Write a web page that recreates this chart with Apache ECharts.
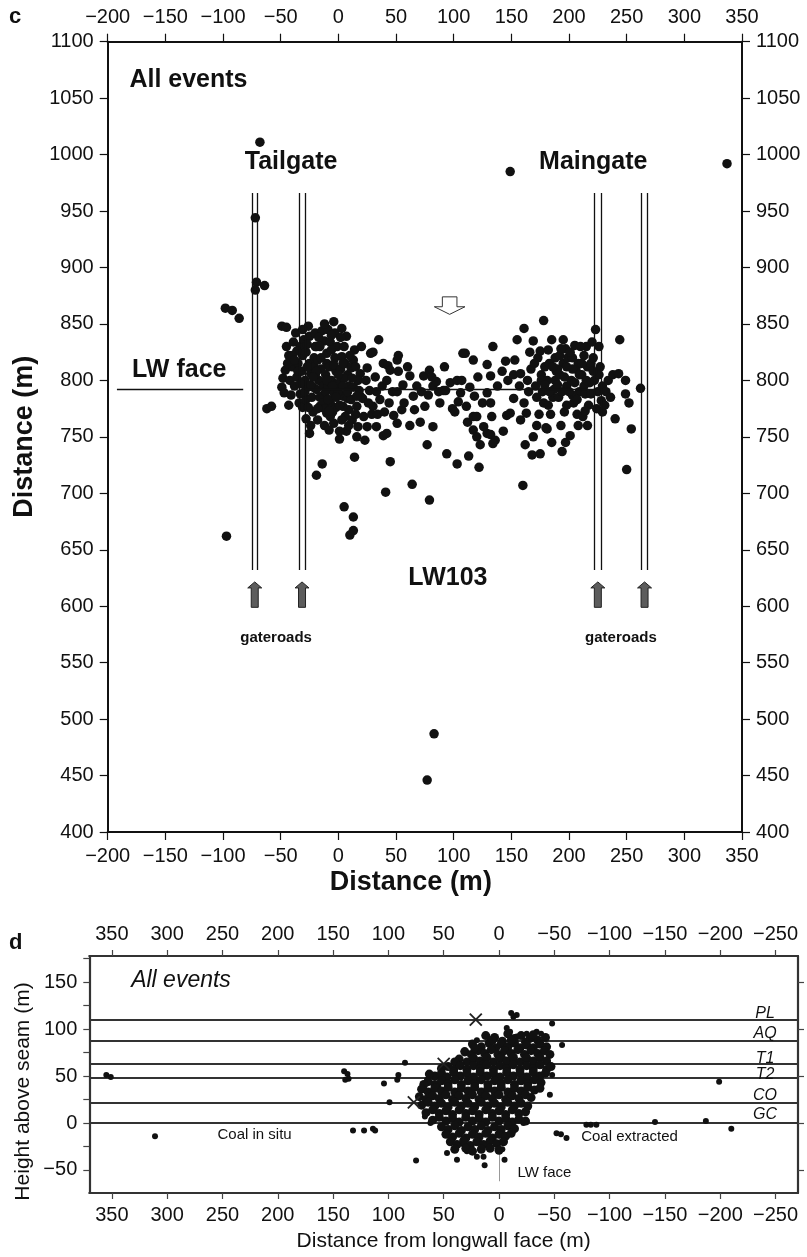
<!DOCTYPE html>
<html>
<head>
<meta charset="utf-8">
<script src="https://cdn.jsdelivr.net/npm/echarts@6/dist/echarts.min.js"></script>
<style>
html,body{margin:0;padding:0;background:#fff;}
#main{width:807px;height:1257px;}
</style>
</head>
<body>
<div id="main"></div>
<script>
// ---------- panel c : plan view, LW103 ----------
const ticksCX = [-200,-150,-100,-50,0,50,100,150,200,250,300,350];
const ticksCY = [400,450,500,550,600,650,700,750,800,850,900,950,1000,1050,1100];

const eventsC = [
  // outliers
  [-98,864],[-92,862],[-86,855],[-97,662],[-72,944],[-71,887],[-64,884],[-72,880],[-68,1011],[-62,775],[-58,777],
  [149,985],[337,992],[83,487],[77,446],[5,688],[13,679],[13,667],[10,663],[79,694],
  // left lobe
  [-49,848],[-45,847],[-48,802],[-49,794],[-46,809],[-43,822],[-43,778],[-40,812],[-41,787],[-44,815],[-47,789],[-42,800],
  [-37,842],[-33,830],[-30,836],[-36,803],[-33,788],[-35,815],[-38,795],[-32,808],[-31,822],[-34,780],[-30,798],[-36,826],[-39,834],[-31,776],
  [-26,848],[-25,839],[-27,794],[-28,783],[-22,794],[-22,772],[-28,766],[-25,753],[-25,815],[-20,830],[-24,806],[-28,825],[-21,812],[-29,800],[-23,785],[-26,776],[-20,842],[-24,760],[-27,832],[-21,820],
  [-14,844],[-19,830],[-17,800],[-14,786],[-16,777],[-10,771],[-10,824],[-14,726],[-19,716],[-12,835],[-18,818],[-15,810],[-11,805],[-19,792],[-13,795],[-18,765],[-12,760],[-16,785],[-10,815],[-20,805],[-13,780],[-17,838],[-11,790],
  [-7,834],[-7,780],[-4,789],[-4,762],[-8,812],[-3,820],[-6,800],[-2,808],[-9,795],[-1,830],[-5,772],[-8,756],[-2,776],[-6,827],[-3,842],[-9,845],[-1,797],[-7,768],[-4,814],[-9,783],
  [3,846],[7,839],[3,821],[1,797],[4,786],[9,774],[1,748],[7,755],[1,755],[6,768],[2,810],[8,805],[5,830],[0,790],[6,815],[9,795],[4,777],[8,784],[3,765],[9,760],[5,802],[1,778],
  [14,827],[13,818],[13,794],[19,786],[16,777],[12,765],[17,759],[14,732],[20,830],[19,806],[11,811],[17,800],[15,770],[18,791],[11,783],[12,802],[16,750],
  [25,811],[22,768],[25,759],[23,747],[27,791],[30,777],[28,824],[24,800],[21,784],[29,770],[26,780],
  [32,803],[36,783],[33,759],[39,751],[39,815],[35,836],[30,825],[38,795],[34,770],[40,772],[33,790],
  [-45,830],[-40,822],[-35,808],[-29,790],[-24,796],[-19,808],[-15,820],[-10,800],[-5,795],[0,805],[4,795],[8,790],[-2,785],[-12,775],[-22,803],
  [-33,797],[-38,818],[-27,812],[-16,830],[-6,840],[2,838],[10,822],[15,812],[-8,773],[-18,775],[4,815],[-31,845],[-12,850],[-4,852],[16,786],
  // middle
  [42,800],[43,813],[45,809],[42,753],[45,728],[41,701],[48,769],[47,790],[44,780],
  [51,790],[55,774],[52,808],[51,818],[52,822],[51,762],[57,780],[56,796],
  [62,804],[65,786],[66,774],[64,708],[62,760],[68,795],[60,812],
  [74,804],[75,777],[71,763],[79,809],[77,743],[78,787],[72,790],
  [82,795],[85,799],[88,780],[82,759],[81,803],[87,790],
  [91,791],[93,791],[94,735],[92,812],[97,798],[99,775],
  [103,800],[107,800],[106,789],[101,772],[103,726],[108,824],[104,781],
  [110,824],[117,818],[112,763],[113,733],[111,777],[117,768],[117,756],[120,750],[120,768],[118,786],[114,794],
  [121,803],[122,723],[129,814],[126,759],[129,753],[129,789],[125,780],[123,743],
  [134,830],[132,804],[132,780],[132,752],[136,747],[134,744],[133,768],[138,795],
  [145,817],[142,808],[143,755],[146,769],[149,771],[147,800],
  [155,836],[152,784],[152,805],[158,806],[158,765],[160,707],[153,818],[157,795],
  // right lobe
  [161,846],[162,743],[166,825],[169,835],[163,771],[169,750],[168,734],[165,790],[167,810],[161,780],[164,800],
  [175,735],[178,853],[173,820],[176,805],[171,795],[178,780],[174,770],[179,812],[172,760],[177,790],[180,758],[175,826],
  [182,827],[185,836],[181,757],[183,815],[188,800],[186,785],[184,770],[189,808],[187,792],[182,778],[185,745],[181,800],[188,820],
  [195,836],[197,828],[194,737],[197,745],[195,815],[192,805],[198,795],[191,785],[196,772],[199,820],[193,760],[190,810],[198,778],[194,790],[192,822],
  [205,831],[201,751],[208,760],[203,820],[206,810],[202,800],[209,790],[204,780],[207,770],[201,825],[205,798],[208,815],[203,787],
  [213,822],[216,812],[211,805],[218,798],[214,788],[217,778],[212,768],[219,815],[215,830],[220,834],[213,795],[216,760],[211,815],
  [223,845],[227,812],[229,772],[222,800],[225,790],[228,782],[221,820],[226,805],[224,775],[229,795],
  [170,815],[176,800],[183,790],[190,796],[196,803],[203,810],[209,805],[215,800],[221,808],[186,812],
  [193,828],[200,790],[207,783],[214,773],[219,788],[179,796],[172,785],[226,830],[210,830],[198,812],
  [234,800],[238,805],[240,766],[232,790],[236,785],[231,778],[243,806],[244,836],[249,800],[249,788],[252,780],[254,757],[250,721],[262,793]
];

// gateroad pillars (x of each line) and their extent
const gateroadX = [-75,-70,-34,-29,222,228,263,268];
const gateroadTop = 966;
const gateroadBottom = 632;
// arrows: [x, bottom, top]
const gateArrows = [[-72.5,599,621.5],[-31.5,599,621.5],[225,599,621.5],[265.5,599,621.5]];
const faceArrow = [[96.5,858.5,874]];   // [x, tip, top]
// longwall face lines: [x1, x2, y]
const faceLines = [[-192,-82.5,792],[-29,222,792]];

const labelsC = [
  ['All events', -130, 1066, 25],
  ['Tailgate', -41, 993, 25],
  ['Maingate', 221, 993, 25],
  ['LW face', -138, 809, 25],
  ['LW103', 95, 625, 25],
  ['gateroads', -54, 572, 15],
  ['gateroads', 245, 572, 15]
];

// ---------- panel d : section view ----------
const ticksDX = [-250,-200,-150,-100,-50,0,50,100,150,200,250,300,350];
const ticksDY = [-50,0,50,100,150];
const minorDY = [-50,-25,0,25,50,75,100,125,150,175];

const seamNames = ['PL','AQ','T1','T2','CO','GC'];
const seamHeights = [110, 87, 63, 48, 22, 0];
const seamLabelY = [116, 95.5, 69, 52, 29, 8.5];
const crossMarks = [[21,110],[50,63],[77,22]];

// isolated events around the face
const eventsDScatter = [
  [355,51],[351,49],[311,-14],[140,55],[137,52],[136,47],[139,46],[132,-8],[122,-8],[114,-6],[112,-8],[104,42],[99,22],[92,46],[91,51],[85,64],[75,-40],[67,7],[62,0],[65,46],[55,39],
  [-48,106],[-57,83],[-48,51],[-46,30],[-52,-11],[-56,-12],[-61,-16],[-79,-2],[-83,-2],[-88,-2],[-141,1],[-187,2],[-210,-6],[-199,44],
  [47,-32],[38,-39],[29,-30],[14,-36],[13,-45],[-5,-39],[32,-23],[-5,-20],[-22,0],[20,-36],[-3,-28],
  [-11,117],[-16,115],[-13,113],[-7,101],[-10,97],[-25,95],[-34,97],[-38,95],[-16,92],[20,88],[31,74]
];
// dense cloud of events at the face
const eventsDCore = [
  [-8,95],[-14,90],[-20,93],[-28,90],[-35,88],[-42,91],[-3,87],[4,91],[12,93],[-24,86],[-31,94],
  [24,84],[16,81],[9,85],[3,80],[-2,84],[-8,81],[-14,85],[-19,80],[-25,83],[-31,80],[-37,84],[-43,81],[-11,88],[6,88],
  [31,76],[25,73],[19,77],[13,74],[7,78],[1,73],[-5,77],[-11,74],[-17,78],[-23,73],[-29,77],[-35,74],[-41,77],[-46,73],[22,80],[-2,70],
  [36,68],[29,65],[23,69],[17,66],[11,70],[5,65],[-1,69],[-7,66],[-13,70],[-19,65],[-25,69],[-31,66],[-37,70],[-43,66],[40,65],[14,62],
  [46,60],[41,57],[35,61],[29,57],[23,61],[17,58],[11,62],[5,57],[-1,61],[-7,58],[-13,62],[-19,57],[-25,61],[-31,58],[-37,62],[-43,57],[-47,60],[52,58],
  [58,50],[52,53],[47,49],[41,54],[35,50],[29,53],[23,49],[17,54],[11,50],[5,53],[-1,49],[-7,54],[-13,50],[-19,53],[-25,49],[-31,54],[-37,50],[-42,53],[63,52],
  [64,44],[58,41],[52,45],[46,42],[40,46],[34,41],[28,45],[22,42],[16,46],[10,41],[4,45],[-2,42],[-8,46],[-14,41],[-20,45],[-26,42],[-32,46],[-38,43],[68,41],
  [70,36],[64,33],[58,37],[52,34],[46,38],[40,33],[34,37],[28,34],[22,38],[16,33],[10,37],[4,34],[-2,38],[-8,33],[-14,37],[-20,34],[-26,38],[-32,35],[-37,37],
  [72,28],[66,25],[60,29],[54,26],[48,30],[42,25],[36,29],[30,26],[24,30],[18,25],[12,29],[6,26],[0,30],[-6,25],[-12,29],[-18,26],[-24,30],[-29,27],
  [70,19],[64,22],[58,18],[52,21],[46,17],[40,22],[34,18],[28,21],[22,17],[16,22],[10,18],[4,21],[-2,17],[-8,22],[-14,18],[-20,21],[-26,18],
  [66,11],[60,14],[54,10],[48,13],[42,9],[36,14],[30,10],[24,13],[18,9],[12,14],[6,10],[0,13],[-6,9],[-12,14],[-18,10],[-24,12],
  [60,3],[54,6],[48,2],[42,5],[36,1],[30,6],[24,2],[18,5],[12,1],[6,6],[0,2],[-6,5],[-12,1],[-18,4],[-24,2],
  [52,-4],[46,-7],[40,-3],[34,-8],[28,-4],[22,-7],[16,-3],[10,-8],[4,-4],[-2,-7],[-8,-3],[-14,-6],
  [48,-12],[42,-15],[36,-11],[30,-16],[24,-12],[18,-15],[12,-11],[6,-16],[0,-12],[-6,-14],[-11,-11],
  [44,-20],[38,-23],[32,-19],[26,-24],[20,-20],[14,-23],[8,-19],[2,-22],[-4,-20],
  [40,-28],[30,-27],[24,-30],[16,-28],[8,-27],[0,-29]
];

const labelsD = [
  ['Coal in situ', 221, -13],
  ['Coal extracted', -118, -15],
  ['LW face', -41, -53.5]
];

const FONT = '"Liberation Sans", Arial, Helvetica, sans-serif';
const fmt = v => String(v).replace('-', '\u2212');

const chart = echarts.init(document.getElementById('main'));

function axisC(pos, extra) {
  return Object.assign({
    gridIndex: 0, type: 'value', position: pos,
    min: pos === 'left' || pos === 'right' ? 400 : -200,
    max: pos === 'left' || pos === 'right' ? 1100 : 350,
    interval: 50,
    axisLine: { onZero: false, lineStyle: { color: '#111', width: 2 } },
    axisTick: { length: 8, lineStyle: { color: '#111', width: 1.2 } },
    axisLabel: { margin: 14, fontSize: 20, color: '#111', fontFamily: FONT, formatter: fmt },
    splitLine: { show: false },
    nameMoveOverlap: false
  }, extra || {});
}
function axisD(pos, ticks, labels, extra) {
  const isY = pos === 'left' || pos === 'right';
  return Object.assign({
    gridIndex: 1, type: 'value', position: pos,
    min: isY ? -74.5 : -270.3,
    max: isY ? 177.7 : 370.4,
    inverse: !isY,
    axisLine: { onZero: false, lineStyle: { color: '#333', width: 2.2 } },
    axisTick: { length: 6, customValues: ticks, lineStyle: { color: '#444', width: 1.2 } },
    axisLabel: { show: !!labels, customValues: labels || ticks, margin: 12, fontSize: 20, color: '#111', fontFamily: FONT, formatter: fmt },
    splitLine: { show: false },
    nameMoveOverlap: false
  }, extra || {});
}

function textLabel(name, x, y, size, weight, style) {
  return { name: name, value: [x, y],
    label: { show: true, position: 'inside', formatter: '{b}', fontSize: size, fontWeight: weight,
      fontStyle: style, color: '#111', opacity: 1, fontFamily: FONT } };
}

const option = {
  animation: false,
  backgroundColor: '#fff',
  grid: [
    { left: 107.7, top: 41.7, width: 634.3, height: 790.3, outerBoundsMode: 'none' },
    { left: 89.3, top: 956, width: 708.7, height: 237, outerBoundsMode: 'none' }
  ],
  graphic: [
    { type: 'text', left: 9, top: 6, style: { text: 'c', font: 'bold 22px ' + FONT, fill: '#111' } },
    { type: 'text', left: 9, top: 932, style: { text: 'd', font: 'bold 22px ' + FONT, fill: '#111' } }
  ],
  xAxis: [
    axisC('bottom', { name: 'Distance (m)', nameLocation: 'middle', nameGap: 37,
      nameTextStyle: { fontSize: 27, fontWeight: 'bold', color: '#111', fontFamily: FONT, padding: [0, 28, 0, 0] } }),
    axisC('top'),
    axisD('bottom', ticksDX, ticksDX, { name: 'Distance from longwall face (m)', nameLocation: 'middle', nameGap: 38,
      nameTextStyle: { fontSize: 21, color: '#111', fontFamily: FONT } }),
    axisD('top', ticksDX, ticksDX)
  ],
  yAxis: [
    axisC('left', { name: 'Distance (m)', nameLocation: 'middle', nameGap: 70,
      nameTextStyle: { fontSize: 27, fontWeight: 'bold', color: '#111', fontFamily: FONT } }),
    axisC('right'),
    axisD('left', minorDY, ticksDY, { name: 'Height above seam (m)', nameLocation: 'middle', nameGap: 56,
      nameTextStyle: { fontSize: 21, color: '#111', fontFamily: FONT, padding: [0, 34, 0, 0] } }),
    axisD('right', ticksDY, null)
  ],
  series: [
    {
      type: 'scatter', xAxisIndex: 0, yAxisIndex: 0, silent: true,
      data: eventsC, symbolSize: 9.5, itemStyle: { color: '#111', opacity: 1 }, z: 3,
      markLine: {
        silent: true, symbol: ['none', 'none'], label: { show: false },
        lineStyle: { color: '#111', width: 1.3, type: 'solid', opacity: 1 },
        data: gateroadX.map(x => [{ coord: [x, gateroadTop] }, { coord: [x, gateroadBottom] }])
          .concat(faceLines.map(l => [{ coord: [l[0], l[2]] }, { coord: [l[1], l[2]] }]))
      }
    },
    {
      type: 'custom', xAxisIndex: 0, yAxisIndex: 0, silent: true, z: 4,
      data: gateArrows, encode: { x: 0, y: [1, 2] },
      renderItem: (params, api) => {
        const b = api.coord([api.value(0), api.value(1)]);
        const t = api.coord([api.value(0), api.value(2)]);
        const sw = 3.5, hw = 7, hh = 6;
        return { type: 'polygon', shape: { points: [
          [b[0] - sw, b[1]], [b[0] - sw, t[1] + hh], [b[0] - hw, t[1] + hh], [b[0], t[1]],
          [b[0] + hw, t[1] + hh], [b[0] + sw, t[1] + hh], [b[0] + sw, b[1]] ] },
          style: { fill: '#5c5c5c', stroke: '#222', lineWidth: 1, opacity: 1 } };
      }
    },
    {
      type: 'custom', xAxisIndex: 0, yAxisIndex: 0, silent: true, z: 4,
      data: faceArrow, encode: { x: 0, y: [1, 2] },
      renderItem: (params, api) => {
        const p = api.coord([api.value(0), api.value(1)]);
        const t = api.coord([api.value(0), api.value(2)]);
        const sw = 7.3, hw = 15.3, hh = 7.6;
        return { type: 'polygon', shape: { points: [
          [p[0] - sw, t[1]], [p[0] + sw, t[1]], [p[0] + sw, p[1] - hh], [p[0] + hw, p[1] - hh],
          [p[0], p[1]], [p[0] - hw, p[1] - hh], [p[0] - sw, p[1] - hh] ] },
          style: { fill: '#fff', stroke: '#333', lineWidth: 1, opacity: 1 } };
      }
    },
    {
      type: 'scatter', xAxisIndex: 0, yAxisIndex: 0, silent: true, z: 5,
      symbolSize: 1, itemStyle: { color: 'rgba(0,0,0,0)', opacity: 1 },
      data: labelsC.map(l => textLabel(l[0], l[1], l[2], l[3], 'bold', 'normal'))
    },
    // panel d
    {
      type: 'scatter', xAxisIndex: 2, yAxisIndex: 2, silent: true,
      data: eventsDScatter, symbolSize: 6, itemStyle: { color: '#111', opacity: 1 }, z: 6,
      markLine: {
        silent: true, symbol: ['none', 'none'], label: { show: false }, z: 2,
        lineStyle: { color: '#333', width: 2, type: 'solid', opacity: 1 },
        data: seamHeights.map(h => ({ yAxis: h }))
          .concat([[{ coord: [0, 0], lineStyle: { color: '#999', width: 1 } }, { coord: [0, -62] }]])
      }
    },
    {
      type: 'scatter', xAxisIndex: 2, yAxisIndex: 2, silent: true,
      data: eventsDCore, symbolSize: 9, itemStyle: { color: '#111', opacity: 1 }, z: 6
    },
    {
      type: 'custom', xAxisIndex: 2, yAxisIndex: 2, silent: true, z: 8,
      data: crossMarks,
      renderItem: (params, api) => {
        const p = api.coord([api.value(0), api.value(1)]);
        const s = 6;
        return { type: 'group', children: [
          { type: 'line', shape: { x1: p[0] - s, y1: p[1] - s, x2: p[0] + s, y2: p[1] + s }, style: { stroke: '#222', lineWidth: 1.8 } },
          { type: 'line', shape: { x1: p[0] - s, y1: p[1] + s, x2: p[0] + s, y2: p[1] - s }, style: { stroke: '#222', lineWidth: 1.8 } }
        ] };
      }
    },
    {
      type: 'scatter', xAxisIndex: 2, yAxisIndex: 2, silent: true, z: 8,
      symbolSize: 1, itemStyle: { color: 'rgba(0,0,0,0)', opacity: 1 },
      data: labelsD.map(l => textLabel(l[0], l[1], l[2], 15, 'normal', 'normal'))
        .concat(seamNames.map((n, i) => textLabel(n, -240.5, seamLabelY[i], 16, 'normal', 'italic')))
        .concat([textLabel('All events', 287.5, 152, 23, 'normal', 'italic')])
    }
  ]
};
chart.setOption(option);
</script>
</body>
</html>
